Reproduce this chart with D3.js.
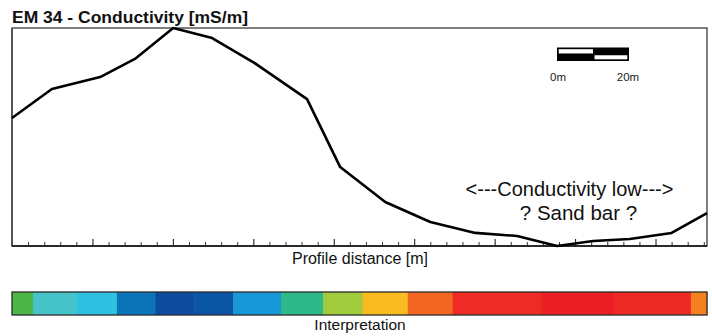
<!DOCTYPE html>
<html><head><meta charset="utf-8">
<script src="https://cdn.jsdelivr.net/npm/d3@7"></script>
<style>
html,body{margin:0;padding:0;background:#fff;}
svg{display:block;font-family:"Liberation Sans",Arial,sans-serif;}
</style></head>
<body>
<svg id="chart" width="712" height="336"></svg>
<script>
// Profile distance [m] of each reading
const distance = [0, 12.4, 27.4, 38.2, 50.1, 62.2, 74.9, 91.7, 102, 116, 130, 144, 157, 169.4, 180.6, 192, 205, 216];
// Relative conductivity reading (mS/m, relative scale)
const conductivity = [58.7, 72.0, 77.5, 85.8, 100, 95.4, 84.4, 67.4, 36.2, 20.2, 11.0, 6.0, 4.6, 0, 2.3, 3.2, 6.0, 15.1];
// Interpretation bar: segment boundaries along the profile [m] and their colours
const interpBreaks = [0, 6.5, 20.2, 32.6, 44.5, 56.6, 68.7, 83.6, 96.7, 109, 123, 137, 164.6, 187, 211, 216];
const interpColors = ["#4cb748", "#45c3c9", "#2fc1e2", "#0b74b8", "#0d4b9d", "#0b55a5", "#1797d5", "#2fb98b", "#9fcb3c", "#f8bc22", "#f26522", "#ee2b24", "#ec1f24", "#ee2a24", "#f48120"];
const xMajorTicks = [25, 50, 75, 100, 125, 150, 175, 200];
const xMinorStep = 5;
const titleText = "EM 34 - Conductivity [mS/m]";
const xTitle = "Profile distance [m]";
const barTitle = "Interpretation";
const noteLines = ["<---Conductivity low--->", "? Sand bar ?"];
const scaleLabels = ["0m", "20m"];

const svg = d3.select("#chart");
const L = 12, R = 707, T = 28, B = 246;
const x = d3.scaleLinear().domain([0, 216]).range([L, R]);
const y = d3.scaleLinear().domain([0, 100]).range([B, T]);

// title
svg.append("text").attr("x", 12).attr("y", 22.5)
  .attr("font-size", 17).attr("font-weight", "bold").attr("fill", "#111")
  .attr("textLength", 236).attr("lengthAdjust", "spacingAndGlyphs")
  .text(titleText);

// frame
svg.append("rect").attr("x", L).attr("y", T).attr("width", R - L).attr("height", B - T)
  .attr("fill", "none").attr("stroke", "#3a3a3a").attr("stroke-width", 1.3);
svg.append("line").attr("x1", L).attr("x2", L).attr("y1", T).attr("y2", B)
  .attr("stroke", "#555").attr("stroke-width", 2);

// x axis with inward ticks
const minorTicks = d3.range(xMinorStep, 216, xMinorStep).filter(v => !xMajorTicks.includes(v));
const gx = svg.append("g").attr("transform", `translate(0,${B})`);
gx.call(d3.axisBottom(x).tickValues(minorTicks).tickSize(-4).tickFormat(""))
  .call(g => g.select(".domain").remove())
  .call(g => g.selectAll(".tick line").attr("stroke", "#333").attr("stroke-width", 1));
const gx2 = svg.append("g").attr("transform", `translate(0,${B})`);
gx2.call(d3.axisBottom(x).tickValues(xMajorTicks).tickSize(-7).tickFormat(""))
  .call(g => g.select(".domain").remove())
  .call(g => g.selectAll(".tick line").attr("stroke", "#222").attr("stroke-width", 1.1));
svg.append("line").attr("x1", L).attr("x2", R).attr("y1", B).attr("y2", B)
  .attr("stroke", "#111").attr("stroke-width", 1.6);

svg.append("text").attr("x", 360).attr("y", 263.5).attr("text-anchor", "middle")
  .attr("font-size", 16).attr("fill", "#111").text(xTitle);

// line
const data = distance.map((d, i) => ({d, v: conductivity[i]}));
svg.append("path").datum(data)
  .attr("fill", "none").attr("stroke", "#000").attr("stroke-width", 2.6)
  .attr("stroke-linejoin", "round")
  .attr("d", d3.line().x(p => x(p.d)).y(p => y(p.v)));

// annotation
svg.append("text").attr("x", 569.5).attr("y", 196).attr("text-anchor", "middle")
  .attr("font-size", 20).attr("fill", "#111").text(noteLines[0]);
svg.append("text").attr("x", 578.5).attr("y", 220).attr("text-anchor", "middle")
  .attr("font-size", 20.5).attr("fill", "#111").text(noteLines[1]);

// scale bar
const sb = svg.append("g");
const sx0 = 557, sx1 = 629, sy0 = 47.5, sy1 = 61;
const sm = (sx0 + sx1) / 2, sym = (sy0 + sy1) / 2;
sb.append("rect").attr("x", sx0).attr("y", sy0).attr("width", sx1 - sx0).attr("height", sy1 - sy0).attr("fill", "#000");
sb.append("rect").attr("x", sx0 + 1.7).attr("y", sy0 + 1.7).attr("width", sm - sx0 - 1.7).attr("height", sym - sy0 - 2.5).attr("fill", "#fff");
sb.append("rect").attr("x", sm + 1.5).attr("y", sym + 1).attr("width", sx1 - sm - 3.2).attr("height", sy1 - sym - 2.7).attr("fill", "#fff");
sb.append("text").attr("x", 558).attr("y", 81).attr("text-anchor", "middle")
  .attr("font-size", 11.5).attr("fill", "#222").text(scaleLabels[0]);
sb.append("text").attr("x", 628).attr("y", 81).attr("text-anchor", "middle")
  .attr("font-size", 11.5).attr("fill", "#222").text(scaleLabels[1]);

// interpretation bar
const by0 = 292, by1 = 315;
const segs = interpColors.map((c, i) => ({a: interpBreaks[i], b: interpBreaks[i + 1], c}));
svg.append("g").selectAll("rect").data(segs).join("rect")
  .attr("x", s => x(s.a)).attr("y", by0)
  .attr("width", s => x(s.b) - x(s.a) + 0.5).attr("height", by1 - by0)
  .attr("fill", s => s.c);
svg.append("rect").attr("x", x(0)).attr("y", by0).attr("width", x(216) - x(0)).attr("height", by1 - by0)
  .attr("fill", "none").attr("stroke", "#2a2a2a").attr("stroke-width", 1.3);
svg.append("text").attr("x", 360).attr("y", 330).attr("text-anchor", "middle")
  .attr("font-size", 15.5).attr("fill", "#111").text(barTitle);
</script>
</body></html>
